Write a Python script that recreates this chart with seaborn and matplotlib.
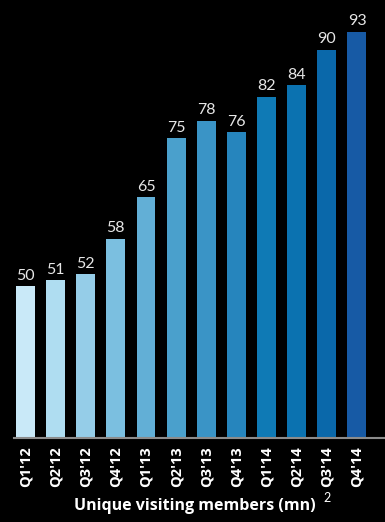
import matplotlib
matplotlib.use('Agg')
import matplotlib.pyplot as plt
import seaborn as sns
import pandas as pd

# data
quarters = ["Q1'12", "Q2'12", "Q3'12", "Q4'12", "Q1'13", "Q2'13",
            "Q3'13", "Q4'13", "Q1'14", "Q2'14", "Q3'14", "Q4'14"]
members = [50, 51, 52, 58, 65, 75, 78, 76, 82, 84, 90, 93]
bar_colors = ['#c9e9f8', '#afddf1', '#95cde8', '#7bbfe0', '#62afd6', '#4aa0cc',
              '#3a94c6', '#2685bd', '#0f7ab5', '#0b72b0', '#0a68aa', '#175aa5']

df = pd.DataFrame({'quarter': quarters, 'members': members})

sns.set_style('dark')
plt.rcParams['font.family'] = ['Lato', 'DejaVu Sans']

fig = plt.figure(figsize=(3.85, 5.22), dpi=100, facecolor='black')
ax = fig.add_axes([14/385, 1 - 438/522, 371/385, 438/522])
ax.set_facecolor('black')

sns.barplot(data=df, x='quarter', y='members', hue='quarter', palette=bar_colors,
            legend=False, width=0.63, saturation=1, ax=ax, edgecolor='none')

# value labels
for i, v in enumerate(members):
    ax.text(i, v + 0.6, str(v), ha='center', va='bottom', color='#e6e6e6',
            fontsize=11.5)

ax.set_ylim(24.3, 98.4)
ax.set_xlim(-0.38, 11.93)
ax.set_yticks([])
ax.set_ylabel('')
ax.set_xlabel('')
ax.grid(False)
for s in ['top', 'right', 'left']:
    ax.spines[s].set_visible(False)
ax.spines['bottom'].set_color('#8c8c8c')
ax.spines['bottom'].set_linewidth(1.5)
ax.tick_params(axis='x', length=0, pad=6, colors='white')
ax.set_xticks(range(len(quarters)))
ax.set_xticklabels(quarters, rotation=90, fontsize=10.5, fontweight='bold', color='white',
                   family=['Open Sans', 'DejaVu Sans'])

fig.text(195/385, 1 - 506/522, 'Unique visiting members (mn)', ha='center', va='center',
         color='white', fontsize=11.5, fontweight='bold', family=['Open Sans', 'DejaVu Sans'])
fig.text(327/385, 1 - 498/522, '2', ha='center', va='center', color='white', fontsize=9)

fig.savefig('out.png', dpi=100, facecolor='black')
